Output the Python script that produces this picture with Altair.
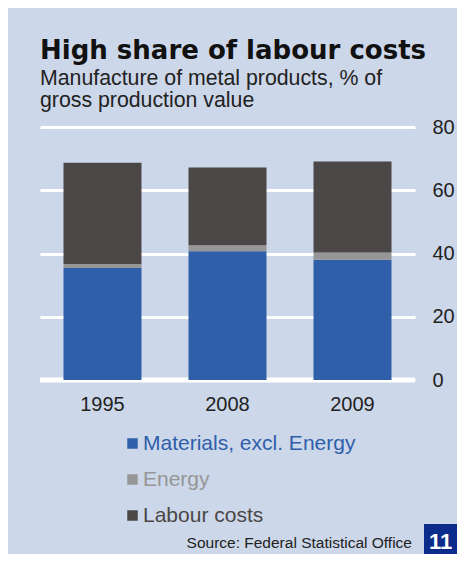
import altair as alt
import pandas as pd

years = ["1995", "2008", "2009"]
series = ["Materials, excl. Energy", "Energy", "Labour costs"]
materials = [35.4, 40.7, 38.0]
energy = [1.3, 1.9, 2.3]
labour = [32.0, 24.6, 28.8]
colors = ["#2f5fa9", "#979696", "#4b4746"]
y_ticks = [0, 20, 40, 60, 80]

title_text = "High share of labour costs"
subtitle_lines = ["Manufacture of metal products, % of", "gross production value"]
source_text = ["Source: Federal Statistical Office"]
page_no = ["11"]

BG = "#ccd7e9"
FONT = "Liberation Sans"

rows = []
for i, yr in enumerate(years):
    for k, (s, vals) in enumerate(zip(series, [materials, energy, labour])):
        rows.append({"year": yr, "series": s, "value": vals[i], "order": k})
df = pd.DataFrame(rows)

label_color_expr = (
    "datum.label == 'Energy' ? '" + colors[1] + "' : "
    "datum.label == 'Labour costs' ? '" + colors[2] + "' : '" + colors[0] + "'"
)

x_enc = alt.X(
    "year:N",
    sort=years,
    scale=alt.Scale(paddingInner=0.376, paddingOuter=0.188),
    axis=alt.Axis(title=None, labelAngle=0, labelFontSize=20, labelFont=FONT,
                  labelColor="#222222", domain=False, ticks=False,
                  labelPadding=14, grid=False),
)
y_enc = alt.Y(
    "value:Q",
    stack="zero",
    scale=alt.Scale(domain=[0, 80], nice=False),
    axis=alt.Axis(title=None, orient="right", values=y_ticks, labelFontSize=20,
                  labelFont=FONT, labelColor="#222222", grid=True,
                  gridColor="white", gridWidth=3, gridOpacity=1, domain=False,
                  ticks=False, labelPadding=17, labelAlign="left"),
)

zero_rule = alt.Chart(pd.DataFrame({"v": [0]})).mark_rule(
    color="white", strokeWidth=5
).encode(y=alt.Y("v:Q"))

bars = alt.Chart(df).mark_bar().encode(
    x=x_enc,
    y=y_enc,
    color=alt.Color(
        "series:N",
        scale=alt.Scale(domain=series, range=colors),
        legend=alt.Legend(
            title=None, orient="none", legendX=82, legendY=306,
            direction="vertical", symbolType="square", symbolSize=110,
            symbolStrokeWidth=0, symbolOpacity=1, labelFontSize=21,
            labelFont=FONT, labelOffset=0, rowPadding=14, padding=0,
            labelLimit=0,
            labelColor=alt.ExprRef(expr=label_color_expr),
        ),
    ),
    order=alt.Order("order:Q", sort="ascending"),
)

source = alt.Chart(pd.DataFrame({"t": source_text})).mark_text(
    align="right", baseline="alphabetic", fontSize=15.5, font=FONT, color="#222222"
).encode(x=alt.value(372), y=alt.value(421), text="t:N")

box = alt.Chart(pd.DataFrame({"t": page_no})).mark_rect(color="#0c2c8c").encode(
    x=alt.value(384), x2=alt.value(417), y=alt.value(397), y2=alt.value(430)
)
box_text = alt.Chart(pd.DataFrame({"t": page_no})).mark_text(
    align="center", baseline="alphabetic", fontSize=22, font=FONT,
    fontWeight="bold", color="white"
).encode(x=alt.value(400.5), y=alt.value(422), text="t:N")

chart = alt.layer(zero_rule, bars, source, box, box_text).properties(
    width=375,
    height=253,
    background=BG,
    padding={"left": 32, "top": 119, "right": 42, "bottom": 174},
    autosize=alt.AutoSizeParams(type="none"),
    title=alt.Title(
        text=title_text,
        subtitle=subtitle_lines,
        anchor="start",
        frame="group",
        font="DejaVu Sans",
        fontWeight="bold",
        fontSize=26,
        color="#111111",
        subtitleFont=FONT,
        subtitleFontSize=21.3,
        subtitleColor="#222222",
        subtitleLineHeight=22,
        subtitlePadding=4,
        offset=6,
    ),
).configure_view(stroke=None, fill=BG)

chart.save("out.html", embed_options={"renderer": "svg", "actions": False})
